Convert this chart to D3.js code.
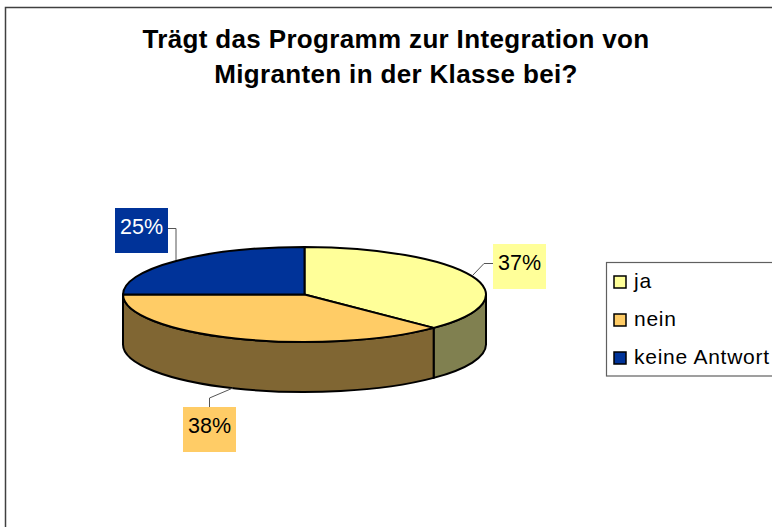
<!DOCTYPE html>
<html>
<head>
<meta charset="utf-8">
<script src="https://cdn.jsdelivr.net/npm/d3@7"></script>
<style>
  html, body { margin: 0; padding: 0; background: #fff; overflow: hidden; }
  text { font-family: "Liberation Sans", Arial, sans-serif; fill: #000; }
</style>
</head>
<body>
<svg id="chart" width="772" height="527"></svg>
<script>
let categories = ["ja", "nein", "keine Antwort"];
let values = [37.4, 37.6, 25];
let titleLines = ["Trägt das Programm zur Integration von", "Migranten in der Klasse bei?"];
let topColors = ["#ffff99", "#ffcc66", "#003399"];
let sideColors = ["#808050", "#806633", "#001a4d"];
let labelColors = ["#000", "#000", "#fff"];

let svg = d3.select("#chart");

// pie is squashed into an ellipse, this is the tilt
let cx = 304.5, cy = 294.5, rx = 181.5, ry = 47.5, depth = 50;

let pieAngles = d3.pie().sort(null)(values);

let px = (a) => cx + rx * Math.sin(a);
let py = (a, dy = 0) => cy + dy - ry * Math.cos(a);

// outer frame runs off the right and bottom edge
svg.append("rect")
   .attr("x", 5.5).attr("y", 7.5)
   .attr("width", 800).attr("height", 600)
   .attr("fill", "#fff")
   .attr("stroke", "#404040")
   .attr("stroke-width", 1.5);

svg.selectAll(".title")
   .data(titleLines)
   .enter()
   .append("text")
   .attr("class", "title")
   .attr("x", 396)
   .attr("y", (d, i) => 48 + i * 35)
   .attr("text-anchor", "middle")
   .style("font-size", "26px")
   .style("font-weight", "bold")
   .style("letter-spacing", "0.34px")
   .text((d) => d);

// side wall, only the part facing us (between 90 and 270 degrees)
let sidePath = (d) => {
    let a0 = Math.max(d.startAngle, Math.PI / 2);
    let a1 = Math.min(d.endAngle, Math.PI * 1.5);
    if (a1 <= a0) return null;
    let large = a1 - a0 > Math.PI ? 1 : 0;
    return `M${px(a0)},${py(a0)}`
         + `A${rx},${ry} 0 ${large} 1 ${px(a1)},${py(a1)}`
         + `L${px(a1)},${py(a1, depth)}`
         + `A${rx},${ry} 0 ${large} 0 ${px(a0)},${py(a0, depth)}Z`;
};

let topPath = (d) => {
    let large = d.endAngle - d.startAngle > Math.PI ? 1 : 0;
    return `M${cx},${cy}L${px(d.startAngle)},${py(d.startAngle)}`
         + `A${rx},${ry} 0 ${large} 1 ${px(d.endAngle)},${py(d.endAngle)}Z`;
};

svg.selectAll(".side")
   .data(pieAngles)
   .enter()
   .append("path")
   .attr("class", "side")
   .attr("d", sidePath)
   .attr("fill", (d, i) => sideColors[i])
   .attr("stroke", "#000")
   .attr("stroke-width", 2)
   .attr("stroke-linejoin", "round");

svg.selectAll(".slice")
   .data(pieAngles)
   .enter()
   .append("path")
   .attr("class", "slice")
   .attr("d", topPath)
   .attr("fill", (d, i) => topColors[i])
   .attr("stroke", "#000")
   .attr("stroke-width", 2)
   .attr("stroke-linejoin", "round");

// data labels, same order as categories
let labelBoxes = [
    { x: 493, y: 244, line: "M493,263.5H484L473,275" },
    { x: 183, y: 407, line: "M209.5,407V398L233,388" },
    { x: 115, y: 208, line: "M168,228.5H176V260" }
];

let labels = svg.selectAll(".label")
                .data(pieAngles)
                .enter()
                .append("g")
                .attr("class", "label");

labels.append("path")
      .attr("d", (d, i) => labelBoxes[i].line)
      .attr("fill", "none")
      .attr("stroke", "#555")
      .attr("stroke-width", 1);

labels.append("rect")
      .attr("x", (d, i) => labelBoxes[i].x)
      .attr("y", (d, i) => labelBoxes[i].y)
      .attr("width", 53)
      .attr("height", 45)
      .attr("fill", (d, i) => topColors[i]);

labels.append("text")
      .attr("x", (d, i) => labelBoxes[i].x + 26.5)
      .attr("y", (d, i) => labelBoxes[i].y + 26)
      .attr("text-anchor", "middle")
      .style("font-size", "21.5px")
      .style("fill", (d, i) => labelColors[i])
      .text((d) => d3.format(".0f")(d.data) + "%");

// legend
let legendY = d3.scaleBand().domain(categories).range([263, 377]);

svg.append("rect")
   .attr("x", 606.5).attr("y", 262.5)
   .attr("width", 200).attr("height", 113.5)
   .attr("fill", "#fff")
   .attr("stroke", "#606060")
   .attr("stroke-width", 1.2);

let legend = svg.selectAll(".legend-item")
                .data(categories)
                .enter()
                .append("g")
                .attr("class", "legend-item")
                .attr("transform", (d) => `translate(0, ${legendY(d) + legendY.bandwidth() / 2})`);

legend.append("rect")
      .attr("x", 614).attr("y", -6)
      .attr("width", 12).attr("height", 12)
      .attr("fill", (d, i) => topColors[i])
      .attr("stroke", "#000")
      .attr("stroke-width", 1.5);

legend.append("text")
      .attr("x", 634)
      .attr("y", 6)
      .style("font-size", "21px")
      .style("letter-spacing", "0.75px")
      .text((d) => d);
</script>
</body>
</html>
